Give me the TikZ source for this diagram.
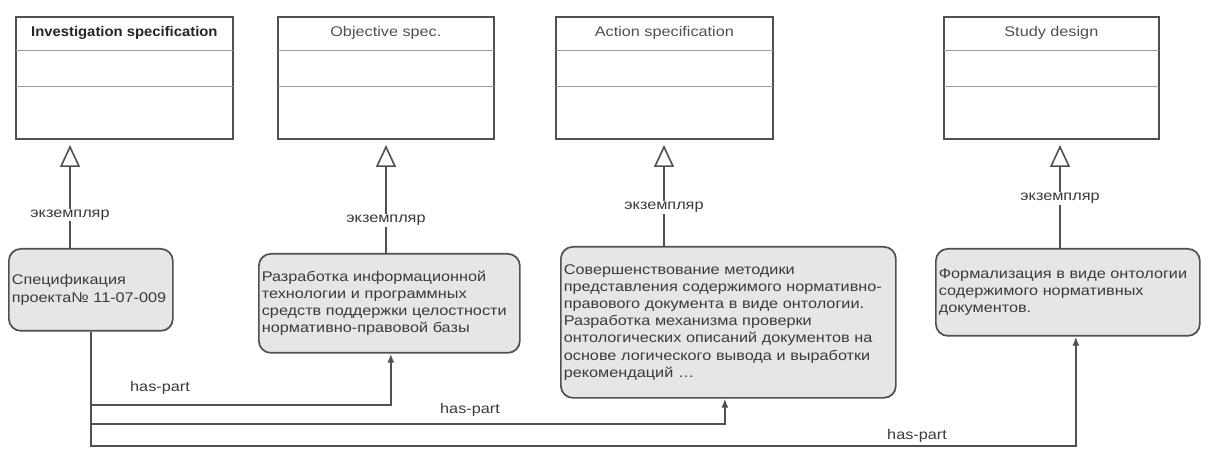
\documentclass[tikz,border=0pt]{standalone}
\usepackage{fontspec}
\setmainfont{Liberation Sans}[FakeStretch=1.16]
\usetikzlibrary{arrows.meta,calc}
\definecolor{edge}{HTML}{505050}
\definecolor{txt}{HTML}{3A3A3A}
\definecolor{instfill}{HTML}{E6E6E6}
\definecolor{divider}{HTML}{9A9A9A}
\begin{document}
\begin{tikzpicture}[x=1pt,y=-1pt,font=\fontsize{14}{17.2}\selectfont,
  classbox/.style={draw=edge,line width=1.7pt,fill=white,anchor=north west,minimum height=122pt,inner sep=0pt},
  divline/.style={draw=divider,line width=1pt},
  title/.style={text=edge,inner sep=0pt},
  instbox/.style={draw=edge,line width=1.7pt,fill=instfill,rounded corners=12pt,anchor=north west,align=left,inner xsep=3pt,inner ysep=0pt,text=txt},
  inh/.style={draw=edge,line width=1.6pt,-{Triangle[open,length=22pt,width=20pt]}},
  part/.style={draw=edge,line width=1.6pt,-{Latex[length=9pt,width=7pt]}},
  lbl/.style={fill=white,text=txt,inner sep=1pt},
  plbl/.style={text=txt,inner sep=0pt}]
\useasboundingbox (0,0) rectangle (1205,454);
% class boxes
\node[classbox,minimum width=217pt] (c1) at (15,16) {};
\node[classbox,minimum width=216pt] (c2) at (277,16) {};
\node[classbox,minimum width=217pt] (c3) at (555,16) {};
\node[classbox,minimum width=215pt] (c4) at (943,16) {};
\foreach \c in {c1,c2,c3,c4}{
  \draw[divline] ($(\c.north west)+(0.8,35)$) -- ($(\c.north east)+(-0.8,35)$);
  \draw[divline] ($(\c.north west)+(0.8,71)$) -- ($(\c.north east)+(-0.8,71)$);
}
\node[title,text=black!85] (n1) at ($(c1.north)+(0,17)$) {\fontspec{Liberation Sans}[FakeStretch=1.06]\textbf{Investigation specification}};
\node[title] (n2) at ($(c2.north)+(0,17)$) {Objective spec.};
\node[title] (n3) at ($(c3.north)+(0,17)$) {Action specification};
\node[title] (n4) at ($(c4.north)+(0,17)$) {Study design};
% instance boxes
\node[instbox,minimum width=164pt,minimum height=82pt,text width=158pt] (i1) at (8,248)
  {Спецификация\\проекта№ 11-07-009};
\node[instbox,minimum width=261pt,minimum height=99pt,text width=255pt] (i2) at (258,253)
  {Разработка информационной\\технологии и программных\\средств поддержки целостности\\нормативно-правовой базы};
\node[instbox,minimum width=335pt,minimum height=151pt,text width=329pt] (i3) at (560,246)
  {Совершенствование методики\\представления содержимого нормативно-\\правового документа в виде онтологии.\\Разработка механизма проверки\\онтологических описаний документов на\\основе логического вывода и выработки\\рекомендаций \ldots};
\node[instbox,minimum width=264pt,minimum height=87pt,text width=258pt] (i4) at (935,248)
  {Формализация в виде онтологии\\содержимого нормативных\\документов.};
% instance-of connectors
\coordinate (t1) at (70,145);
\coordinate (t2) at (386,145);
\coordinate (t3) at (664,145);
\coordinate (t4) at (1060,145);
\draw[inh] (t1 |- i1.north) -- node[lbl,pos=0.32] {экземпляр} (t1);
\draw[inh] (t2 |- i2.north) -- node[lbl,pos=0.30] {экземпляр} (t2);
\draw[inh] (t3 |- i3.north) -- node[lbl,pos=0.38] {экземпляр} (t3);
\draw[inh] (t4 |- i4.north) -- node[lbl,pos=0.48] {экземпляр} (t4);
% has-part connectors
\coordinate (h1) at ($(i2.south)+(1.5,0)$);
\coordinate (h2) at ($(i3.south)+(-3.5,0)$);
\coordinate (h3) at ($(i4.south)+(8,0)$);
\draw[part] (i1.south) |- (h1 |- 0,405) -- (h1);
\draw[part] (i1.south) |- (h2 |- 0,424) -- (h2);
\draw[part] (i1.south) |- (h3 |- 0,446) -- (h3);
\node[plbl] (p1) at (160,388) {has-part};
\node[plbl] (p2) at (470,410) {has-part};
\node[plbl] (p3) at (917,436) {has-part};
\end{tikzpicture}
\end{document}
